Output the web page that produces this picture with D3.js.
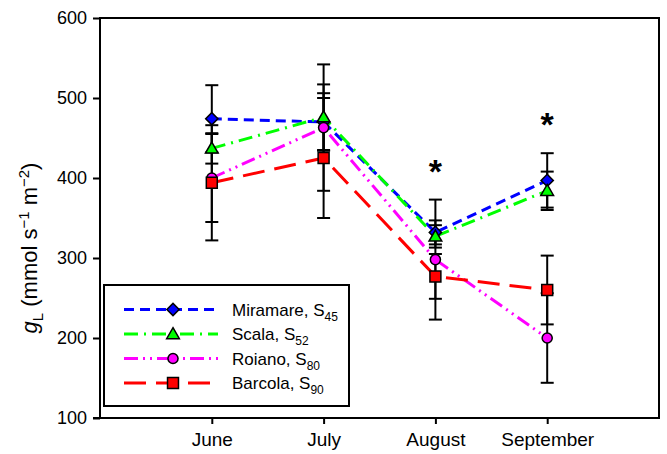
<!DOCTYPE html>
<html><head><meta charset="utf-8">
<script src="https://cdn.jsdelivr.net/npm/d3@7"></script>
<style>body{margin:0;background:#fff}svg{display:block}text{font-family:"Liberation Sans",Arial,sans-serif}</style>
</head><body><svg id="c" width="667" height="454"></svg>
<script>
const months = ["June", "July", "August", "September"];
const yTicks = [100, 200, 300, 400, 500, 600];
const seriesNames = ["Miramare", "Scala", "Roiano", "Barcola"];
const seriesSubs = ["45", "52", "80", "90"];
const miramare = [474, 470, 332, 397];
const miramareErr = [42, 36, 15, 34];
const scala = [437, 476, 327, 384];
const scalaErr = [19, 41, 14, 24];
const roiano = [400, 463, 298, 200];
const roianoErr = [55, 79, 75, 56];
const barcola = [394, 425, 277, 260];
const barcolaErr = [72, 75, 28, 43];
const significant = [false, false, true, true];

const colors = ["#0000ff", "#00ff00", "#ff00ff", "#ff0000"];
const dashes = ["10,6", "14,6,2,6", "14,5,2,5,2,5", "22,10"];
const shapes = [d3.symbolSquare, d3.symbolTriangle, d3.symbolCircle, d3.symbolSquare];
const rotations = [45, 0, 0, 0];
const sizes = [75, 70, 80, 120];

const series = [
  {vals: miramare, err: miramareErr},
  {vals: scala, err: scalaErr},
  {vals: roiano, err: roianoErr},
  {vals: barcola, err: barcolaErr}
];

const svg = d3.select("#c");
const L = 100, R = 659, T = 18, B = 418;
const x = d3.scaleLinear().domain([0, 5]).range([L, R]);
const y = d3.scaleLinear().domain([100, 600]).range([B, T]);
const FONT = '"Liberation Sans",Arial,sans-serif';

// frame
svg.append("rect").attr("x", L).attr("y", T).attr("width", R - L).attr("height", B - T)
  .attr("fill", "none").attr("stroke", "#000").attr("stroke-width", 2);

// y axis
const ya = svg.append("g").attr("transform", `translate(${L},0)`)
  .call(d3.axisLeft(y).tickValues(yTicks).tickSize(7).tickPadding(6).tickFormat(d3.format("d")));
ya.select(".domain").remove();
ya.selectAll("line").attr("stroke", "#000").attr("stroke-width", 2);
ya.selectAll("text").attr("font-size", 18).attr("fill", "#000").attr("font-family", FONT);

// x axis
const xa = svg.append("g").attr("transform", `translate(0,${B})`)
  .call(d3.axisBottom(x).tickValues([1, 2, 3, 4]).tickSize(6).tickPadding(9).tickFormat(d => months[d - 1]));
xa.select(".domain").remove();
xa.selectAll("line").attr("stroke", "#000").attr("stroke-width", 2);
xa.selectAll("text").attr("font-size", 19).attr("fill", "#000").attr("font-family", FONT);
svg.append("line").attr("x1", L - 7).attr("x2", R + 1).attr("y1", B).attr("y2", B).attr("stroke", "#000").attr("stroke-width", 2);

// y title
const yt = svg.append("text").attr("transform", `translate(37,248) rotate(-90)`)
  .attr("text-anchor", "middle").attr("font-size", 22).attr("fill", "#000");
yt.append("tspan").attr("font-style", "italic").text("g");
yt.append("tspan").attr("font-size", 15).attr("dy", 6).text("L");
yt.append("tspan").attr("dy", -6).text(" (mmol s");
yt.append("tspan").attr("font-size", 15).attr("dy", -8).text("\u22121");
yt.append("tspan").attr("dy", 8).text(" m");
yt.append("tspan").attr("font-size", 15).attr("dy", -8).text("\u22122");
yt.append("tspan").attr("dy", 8).text(")");

// lines
const line = d3.line().x((d, i) => x(i + 1)).y(d => y(d));
series.forEach((s, k) => {
  svg.append("path").datum(s.vals).attr("d", line).attr("fill", "none")
    .attr("stroke", colors[k]).attr("stroke-width", 3).attr("stroke-dasharray", dashes[k]);
});

// error bars
const cap = 6.5;
series.forEach((s, k) => {
  const g = svg.append("g");
  s.vals.forEach((v, i) => {
    const cx = x(i + 1), y1 = y(v + s.err[i]), y2 = y(v - s.err[i]);
    g.append("line").attr("x1", cx).attr("x2", cx).attr("y1", y1).attr("y2", y2).attr("stroke", "#000").attr("stroke-width", 2);
    [y1, y2].forEach(yy => g.append("line").attr("x1", cx - cap).attr("x2", cx + cap).attr("y1", yy).attr("y2", yy).attr("stroke", "#000").attr("stroke-width", 2));
  });
});

// markers
series.forEach((s, k) => {
  svg.append("g").selectAll("path").data(s.vals).join("path")
    .attr("d", d3.symbol().type(shapes[k]).size(sizes[k]))
    .attr("transform", (d, i) => `translate(${x(i + 1)},${y(d) + (k === 1 ? 1 : 0)}) rotate(${rotations[k]})`)
    .attr("fill", colors[k]).attr("stroke", "#000").attr("stroke-width", 1.5);
});

// significance stars
svg.append("g").selectAll("text").data(months.map((m, i) => i).filter(i => significant[i])).join("text")
  .attr("x", i => x(i + 1)).attr("y", i => y(d3.max(series, s => s.vals[i] + s.err[i])) - 17)
  .attr("text-anchor", "middle").attr("font-size", 34).attr("font-weight", "bold").attr("fill", "#000")
  .text("*");

// legend
const lg = svg.append("g");
lg.append("rect").attr("x", 104).attr("y", 285).attr("width", 245).attr("height", 121)
  .attr("fill", "#fff").attr("stroke", "#000").attr("stroke-width", 2);
series.forEach((s, k) => {
  const ly = 309.5 + k * 24.5;
  lg.append("line").attr("x1", 124).attr("x2", 218).attr("y1", ly).attr("y2", ly)
    .attr("stroke", colors[k]).attr("stroke-width", 3).attr("stroke-dasharray", dashes[k]);
  lg.append("path").attr("d", d3.symbol().type(shapes[k]).size(sizes[k])())
    .attr("transform", `translate(173,${ly + (k === 1 ? 1 : 0)}) rotate(${rotations[k]})`)
    .attr("fill", colors[k]).attr("stroke", "#000").attr("stroke-width", 1.5);
  const t = lg.append("text").attr("x", 232).attr("y", ly + 6).attr("font-size", 17).attr("fill", "#000");
  t.append("tspan").text(seriesNames[k] + ", S");
  t.append("tspan").attr("font-size", 12).attr("dy", 5).text(seriesSubs[k]);
});
</script></body></html>
